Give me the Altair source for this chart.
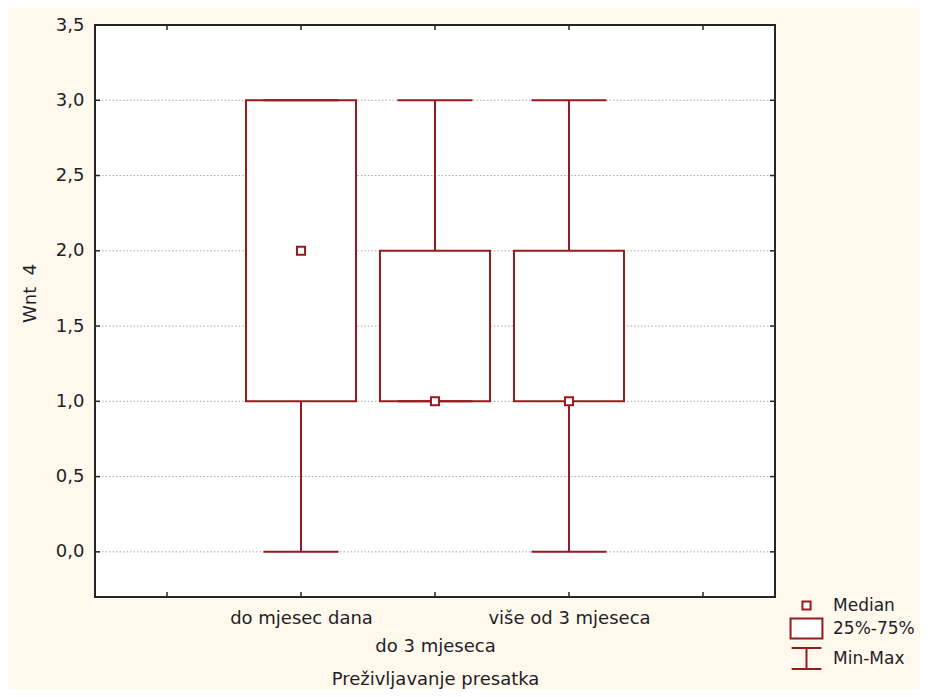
import altair as alt
import pandas as pd

# ---- data ----
categories = ["do mjesec dana", "do 3 mjeseca", "više od 3 mjeseca"]
positions = [1.5, 2.5, 3.5]
minimum = [0.0, 1.0, 0.0]
q1 = [1.0, 1.0, 1.0]
median = [2.0, 1.0, 1.0]
q3 = [3.0, 2.0, 2.0]
maximum = [3.0, 3.0, 3.0]

y_ticks = [0.0, 0.5, 1.0, 1.5, 2.0, 2.5, 3.0, 3.5]
grid_vals = [0.0, 0.5, 1.0, 1.5, 2.0, 2.5, 3.0]
x_ticks = [0.5, 1.5, 2.5, 3.5, 4.5]
legend_items = ["Median", "25%-75%", "Min-Max"]

# ---- styles ----
RED = "#951b1e"
TXT = "#1e1e28"
FRAME = "#262626"
FONT = "DejaVu Sans"
FS = 18
W, H = 680, 572
CAP_HALF = 0.28

df = pd.DataFrame({
    "cat": categories, "pos": positions, "mn": minimum, "q1": q1,
    "med": median, "q3": q3, "mx": maximum,
})
df["legend"] = "Median"

xs = alt.Scale(domain=[0, 5], nice=False, zero=False)
ys = alt.Scale(domain=[-0.3, 3.5], nice=False, zero=False)

label_expr = (
    f"datum.value == {positions[0]} ? '{categories[0]}' : "
    f"datum.value == {positions[1]} ? ['', '{categories[1]}'] : "
    f"'{categories[2]}'"
)

x_axis = alt.Axis(
    values=positions, labelExpr=label_expr, ticks=False, tickSize=0,
    domain=False, grid=False, labelPadding=12, labelFont=FONT,
    labelFontSize=FS, labelColor=TXT, labelLineHeight=28,
    labelOverlap=False, labelBound=False,
    title="Preživljavanje presatka", titleFont=FONT, titleFontSize=FS,
    titleFontWeight="normal", titleColor=TXT, titleY=87,
    titleBaseline="alphabetic",
)
y_axis = alt.Axis(
    values=y_ticks, labelExpr="replace(format(datum.value, '.1f'), '.', ',')",
    ticks=False, tickSize=0, domain=False, grid=False, labelPadding=11,
    labelFont=FONT, labelFontSize=FS, labelColor=TXT,
    title="Wnt\u00a0\u00a04", titleFont=FONT, titleFontSize=FS,
    titleFontWeight="normal", titleColor=TXT, titleX=-65, titleY=268,
    titleBaseline="middle", titleAlign="center",
)

X = lambda f: alt.X(f, scale=xs, axis=x_axis)
Y = lambda f: alt.Y(f, scale=ys, axis=y_axis)

base = alt.Chart(df)

grid_df = pd.DataFrame({"v": grid_vals})
grid = alt.Chart(grid_df).mark_rule(color="#a8a8a8", strokeWidth=1, strokeDash=[1.5, 2]).encode(
    y=Y("v:Q"), x=alt.value(0), x2=alt.value(W)
)

ytd = pd.DataFrame({"v": y_ticks})
xtd = pd.DataFrame({"v": x_ticks})
tick_style = dict(color=FRAME, strokeWidth=1.5)
left_ticks = alt.Chart(ytd).mark_rule(**tick_style).encode(
    y=Y("v:Q"), x=alt.value(0), x2=alt.value(5))
right_ticks = alt.Chart(ytd).mark_rule(**tick_style).encode(
    y=Y("v:Q"), x=alt.value(W), x2=alt.value(W - 5))
bottom_ticks = alt.Chart(xtd).mark_rule(**tick_style).encode(
    x=X("v:Q"), y=alt.value(H), y2=alt.value(H - 5))
top_ticks = alt.Chart(xtd).mark_rule(**tick_style).encode(
    x=X("v:Q"), y=alt.value(0), y2=alt.value(5))

whisker = base.mark_rule(color=RED, strokeWidth=2).encode(
    x=X("pos:Q"), y=Y("mn:Q"), y2="mx:Q",
)

box = base.mark_bar(size=110, fill="white", stroke=RED, strokeWidth=2).encode(
    x=X("pos:Q"), y=Y("q1:Q"), y2="q3:Q",
)

caps_base = base.transform_calculate(
    xl=f"datum.pos - {CAP_HALF}", xr=f"datum.pos + {CAP_HALF}"
)
cap_lo = caps_base.mark_rule(color=RED, strokeWidth=2).encode(
    x=X("xl:Q"), x2="xr:Q", y=Y("mn:Q"),
)
cap_hi = caps_base.mark_rule(color=RED, strokeWidth=2).encode(
    x=X("xl:Q"), x2="xr:Q", y=Y("mx:Q"),
)

sq_path = "M-0.3,-0.3H0.3V0.3H-0.3Z"
box_path = "M-1.18,-0.74H1.18V0.74H-1.18Z"
ibeam_path = "M-1.1,-0.78H1.1M0,-0.78V0.78M-1.1,0.78H1.1"

legend = alt.Legend(
    title=None, orient="none", legendX=697, legendY=566, padding=0,
    symbolSize=729, symbolStrokeColor=RED, symbolFillColor="transparent",
    symbolStrokeWidth=2, symbolOpacity=1, labelFont=FONT,
    labelFontSize=17, labelColor=TXT, labelOffset=12, rowPadding=0,
)

med = base.mark_point(filled=False, fill="white", strokeWidth=2,
                      size=729, opacity=1).encode(
    x=X("pos:Q"), y=Y("med:Q"),
    shape=alt.Shape(
        "legend:N",
        scale=alt.Scale(domain=legend_items, range=[sq_path, box_path, ibeam_path]),
        legend=legend,
    ),
    stroke=alt.Stroke(
        "legend:N",
        scale=alt.Scale(domain=legend_items, range=[RED, RED, RED]),
        legend=legend,
    ),
)

chart = alt.layer(
    grid, whisker, box, cap_lo, cap_hi, med,
    left_ticks, right_ticks, bottom_ticks, top_ticks,
).properties(
    width=W, height=H,
    background="#FFF8EC",
    padding={"left": 87, "top": 17, "right": 145, "bottom": 92},
    autosize=alt.AutoSizeParams(type="none"),
).configure_view(
    fill="white", stroke=FRAME, strokeWidth=2,
)

chart.save("out.html", embed_options={"renderer": "svg", "actions": False})
